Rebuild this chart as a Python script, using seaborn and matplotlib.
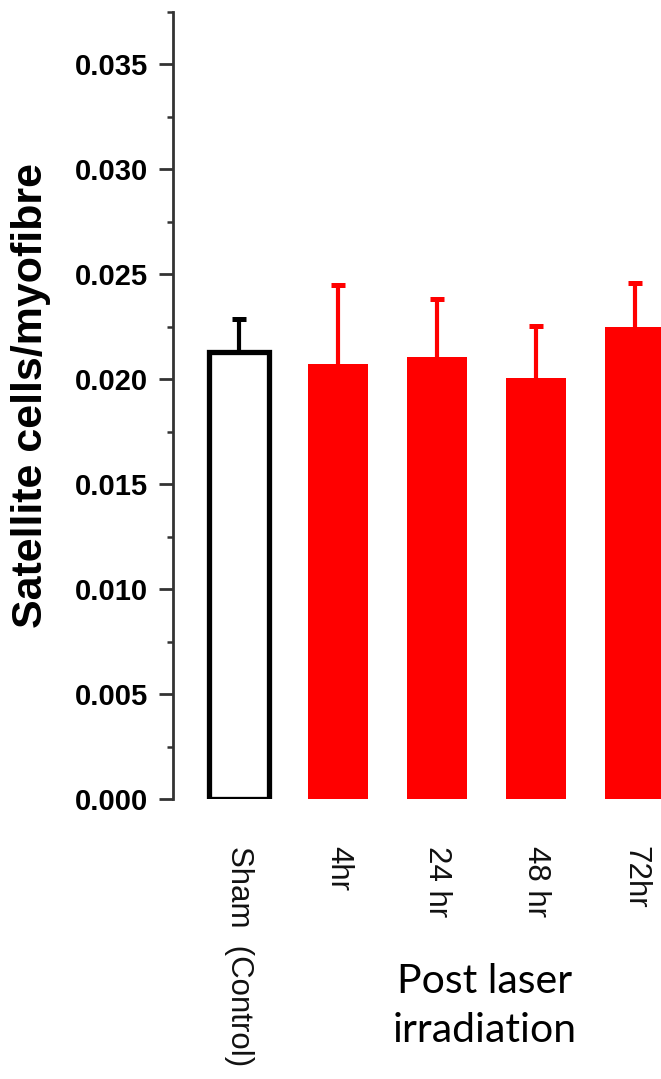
import matplotlib
matplotlib.use("Agg")
import matplotlib.pyplot as plt
from matplotlib.ticker import MultipleLocator, FormatStrFormatter
import seaborn as sns
import pandas as pd
import numpy as np

# ---- data ----
categories = ["Sham  (Control)", "4hr", "24 hr", "48 hr", "72hr"]
means = [0.02129, 0.02074, 0.02108, 0.02007, 0.02251]
sem_upper = [0.00160, 0.00377, 0.00276, 0.00248, 0.00209]
bar_colors = ["white", "#FF0000", "#FF0000", "#FF0000", "#FF0000"]
ylabel = "Satellite cells/myofibre"
xlabel = "Post laser\nirradiation"

df = pd.DataFrame({"group": categories, "value": means})

sns.set_style("white")
plt.rcParams["font.family"] = ["Liberation Sans", "DejaVu Sans"]
plt.rcParams["text.color"] = "black"

W, H = 661, 1079
fig = plt.figure(figsize=(W / 100, H / 100), dpi=100)
ax = fig.add_axes([173 / W, 1 - 799 / H, (W - 173) / W, (799 - 12) / H])

sns.barplot(data=df, x="group", y="value", hue="group", palette=bar_colors,
            order=categories, hue_order=categories, errorbar=None,
            width=0.61, legend=False, ax=ax, linewidth=0, saturation=1)

# outline on the sham bar
for i, p in enumerate(ax.patches):
    if bar_colors[i] == "white":
        p.set_edgecolor("black")
        p.set_linewidth(3.8)
        p.set_zorder(3)

x = np.arange(len(categories))
err_colors = ["black" if c == "white" else c for c in bar_colors]
for xi, m, e, c in zip(x, means, sem_upper, err_colors):
    _, caps, _ = ax.errorbar(xi, m, yerr=[[0], [e]], fmt="none", ecolor=c,
                             elinewidth=3.0, capsize=5.2, capthick=3.6, zorder=2)
    # keep only the upper cap
    if len(caps) >= 2:
        caps[0].set_visible(False)

ax.set_xlim(-0.667, 4.263)
ax.set_ylim(0, 0.0375)
ax.yaxis.set_major_locator(MultipleLocator(0.005))
ax.yaxis.set_minor_locator(MultipleLocator(0.0025))
ax.yaxis.set_major_formatter(FormatStrFormatter("%.3f"))

for s in ["top", "right", "bottom"]:
    ax.spines[s].set_visible(False)
ax.spines["left"].set_linewidth(2.0)
ax.spines["left"].set_color("#333333")

ax.tick_params(axis="y", which="major", direction="out", length=10, width=2.0,
               color="#333333", pad=8, labelsize=21, left=True, labelcolor="black")
ax.tick_params(axis="y", which="minor", direction="out", length=4, width=1.8,
               color="#333333", left=True)
for t in ax.get_yticklabels():
    t.set_fontweight("bold")

ax.set_xticks(x)
ax.set_xticklabels(categories, rotation=270, fontsize=22.5)
ax.tick_params(axis="x", length=0, pad=34, labelcolor="#111111")
ax.set_xlabel("")
ax.set_ylabel("")

fig.text(31 / W, 1 - 395 / H, ylabel, rotation=90, ha="center", va="center",
         fontsize=31, fontweight="bold", color="black")
fig.text(485 / W, 1 - 1006 / H, xlabel, ha="center", va="center",
         fontsize=29.5, family=["Lato", "DejaVu Sans"], linespacing=1.38,
         color="black")

fig.savefig("out.png", dpi=100)
